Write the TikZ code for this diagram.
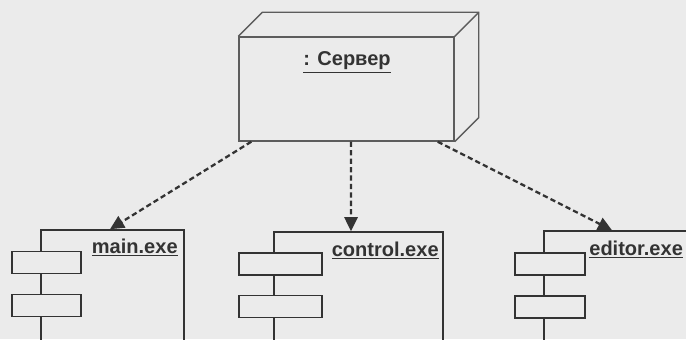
\documentclass[tikz,border=0pt]{standalone}
\usepackage{fontspec}
\setmainfont{Liberation Sans}
\usetikzlibrary{arrows.meta,positioning,calc}

\definecolor{paper}{HTML}{EBEBEB}
\definecolor{ink}{HTML}{333333}

\begin{document}
\begin{tikzpicture}[
  comp/.style={draw=ink, line width=0.9pt, minimum height=2.8cm},
  port/.style={draw=ink, line width=0.9pt, fill=paper, minimum height=0.44cm},
  srvbox/.style={draw=ink!80, line width=0.8pt, minimum width=4.3cm, minimum height=2.08cm},
  lbl/.style={text=ink, inner sep=0pt, font=\fontsize{11.4}{13}\selectfont\bfseries},
  dep/.style={-{Triangle[length=8pt,width=7.5pt]}, ink, line width=1.3pt, dash pattern=on 3pt off 1.8pt}
]
\useasboundingbox (0,0) rectangle (13.72,6.78);
\clip (0,0) rectangle (13.72,6.78);
\fill[paper] (0,0) rectangle (13.72,6.78);

% node
\node[srvbox] (srv) at (6.93,5.0) {};
\draw[ink!80, line width=0.8pt] (srv.north west) -- ++(0.48,0.48) -| ($(srv.south east)+(0.48,0.48)$) -- (srv.south east);
\draw[ink!80, line width=0.8pt] (srv.north east) -- ++(0.48,0.48);
\node[lbl, anchor=base] (srvname) at (6.94,5.46) {\underline{: Сервер}};

% components
\node[comp, minimum width=2.86cm] (main) at (2.25,0.78) {};
\node[port, minimum width=1.38cm] (main-p1) at (0.93,1.53) {};
\node[port, minimum width=1.38cm] (main-p2) at (0.93,0.67) {};
\node[lbl, anchor=base east] (main-name) at (3.56,1.72) {\underline{main.exe}};

\node[comp, minimum width=3.38cm] (ctrl) at (7.17,0.74) {};
\node[port, minimum width=1.66cm] (ctrl-p1) at (5.61,1.5) {};
\node[port, minimum width=1.66cm] (ctrl-p2) at (5.61,0.65) {};
\node[lbl, anchor=base east] (ctrl-name) at (8.78,1.66) {\underline{control.exe}};

\node[comp, minimum width=3.2cm] (edit) at (12.48,0.76) {};
\node[port, minimum width=1.4cm] (edit-p1) at (11.0,1.5) {};
\node[port, minimum width=1.4cm] (edit-p2) at (11.0,0.64) {};
\node[lbl, anchor=base west] (edit-name) at (11.78,1.68) {\underline{editor.exe}};

% dependencies
\draw[dep] ([xshift=0.26cm]srv.south west) -- ([xshift=-0.05cm]main.north);
\draw[dep] ([xshift=0.09cm]srv.south) -- ([xshift=-0.15cm]ctrl.north);
\draw[dep] ([xshift=-0.34cm]srv.south east) -- ([xshift=-0.24cm]edit.north);

\end{tikzpicture}
\end{document}
